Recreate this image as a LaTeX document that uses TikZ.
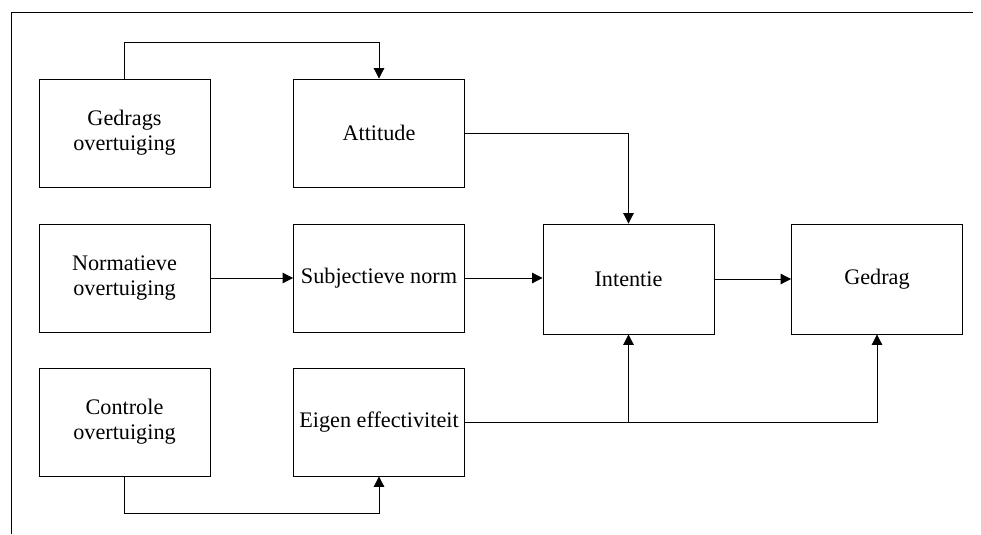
\documentclass[tikz,border=0pt]{standalone}
\usepackage{fontspec}
\setmainfont{Liberation Serif}
\usepackage{tikz}
\usetikzlibrary{arrows.meta,positioning,calc}

\begin{document}
\begin{tikzpicture}[>={Triangle[length=0.26cm,width=0.26cm]}, line width=0.6pt,
    box/.style={draw, minimum width=4.275cm, minimum height=2.7cm, align=center,
      font=\fontsize{15.8}{18}\selectfont},
    bigbox/.style={box, minimum height=2.75cm}]
      \useasboundingbox (0,0) rectangle (24.525,13.35);
      % frame (only top and left edge)
      \draw (24.325,13.05) -- (0.275,13.05) -- (0.275,0);
      % boxes
      \node[box] (ged) at (3.1125,10.025) {Gedrags\\overtuiging};
      \node[box] (nor) at (3.1125,6.4) {Normatieve\\overtuiging};
      \node[box] (con) at (3.1125,2.8) {Controle\\overtuiging};
      \node[box] (att) at (9.475,10.025) {Attitude};
      \node[box] (sub) at (9.475,6.4) {Subjectieve norm};
      \node[box] (eig) at (9.475,2.8) {Eigen effectiviteit};
      \node[bigbox] (int) at (15.7125,6.375) {Intentie};
      \node[bigbox] (gdr) at (21.925,6.375) {Gedrag};
      % connectors
      \draw[->] (ged.north) -- ++(0,0.9) -| (att.north);
      \draw[->] (att.east) -| (int.north);
      \draw[->] (nor.east) -- (sub.west);
      \draw[->] (sub.east) -- (int.west |- sub.east);
      \draw[->] (int.east) -- (gdr.west);
      \draw[->] (eig.east) -| (gdr.south);
      \coordinate (split) at (eig.east -| int.south);
      \draw[->] (split) -- (int.south);
      \draw[->] (con.south) -- ++(0,-0.925) -| (eig.south);
    \end{tikzpicture}
\end{document}
